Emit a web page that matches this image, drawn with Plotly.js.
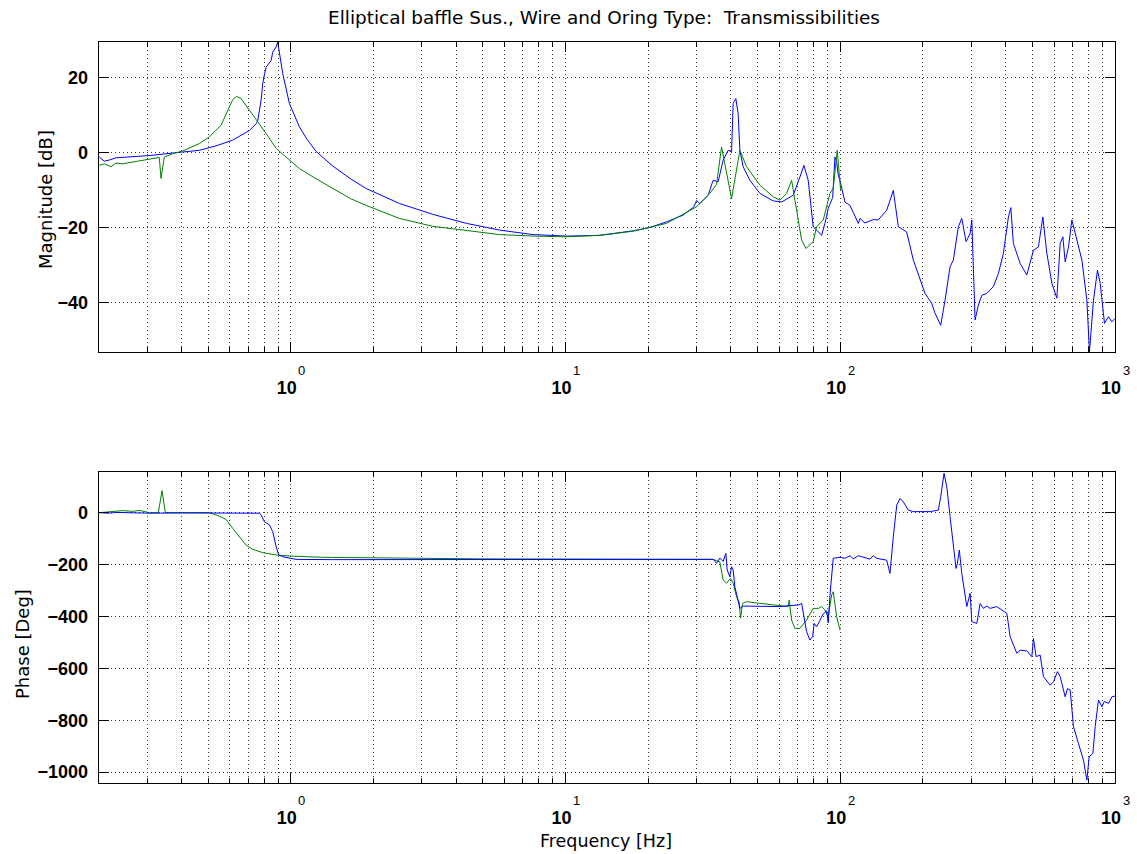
<!DOCTYPE html>
<html><head><meta charset="utf-8">
<script src="https://cdn.plot.ly/plotly-3.0.1.min.js"></script>
<style>html,body{margin:0;padding:0;background:#fff;}#chart{width:1137px;height:854px;}</style>
</head><body><div id="chart"></div>
<script>
// ---- Magnitude, blue series ----
const magFreqBlue = [0.201,0.2096,0.2185,0.2312,0.3056,0.3516,0.4043,0.465,0.535,0.6145,
0.7074,0.7482,0.7582,0.7802,0.7907,0.8021,0.8136,0.8484,0.8597,0.8848,
0.8967,0.9351,0.989,1.076,1.15,1.237,1.33,1.422,1.65,1.882,2.489,3.291,4.355,
5.758,7.613,10.08,13.32,17.62,20.27,23.32,26.8,29.31,29.99,
30.83,33.05,34.46,35.94,37.49,39.09,40.22,40.76,41.69,42.5,
43.12,44.32,46.88,51.0,57.01,61.16,67.43,71.33,73.77,76.45,
79.72,82.04,85.55,87.97,90.44,93.83,95.65,97.03,98.34,99.75,
104.0,108.5,116.3,118.0,123.0,131.9,137.5,147.6,156.0,162.7,
174.5,184.5,195.1,203.5,215.3,221.3,232.1,240.7,251.0,258.0,
269.1,276.9,287.1,296.9,301.2,309.6,318.3,327.5,341.6,360.8,
376.3,392.5,409.3,417.7,426.8,451.5,477.5,504.8,526.4,546.2,
564.9,589.1,614.3,631.6,646.1,658.7,677.2,696.7,757.6,790.0,
807.4,835.0,863.4,883.3,915.7,947.0,974.3,1000];
const magBlue = [-1.2,-2.3,-2.0,-1.4,-0.8,-0.4,0.15,0.6,1.8,3.3,
5.9,7.7,8.5,14,18.4,20.8,22.8,24.6,26.8,28.2,
29.5,21.1,13.1,6.8,3.4,0.3,-1.8,-3.6,-7.0,-9.6,-13.6,-16.5,-18.9,
-20.7,-21.9,-22.3,-22.1,-20.9,-20,-18.5,-16.7,-14.5,-12.8,
-13.6,-11.4,-7.4,-7.8,-2,0.6,0.2,13.1,14.4,10.4,
0.6,-3.8,-7.4,-10.9,-12.9,-13.2,-11.4,-6.5,-3.4,-7.4,
-19.8,-20.7,-22.1,-18.9,-14.9,-12,-1.2,-2.5,-6,-7.4,
-13.2,-14.1,-18.9,-17.6,-18.8,-17.9,-18,-15.4,-10.1,-19.8,
-21.2,-28.7,-34.1,-37.6,-40.3,-42.9,-46.1,-39.4,-30.5,-28.7,
-19.8,-17.6,-23.8,-21.6,-18,-44.7,-40.7,-38.1,-37.6,-35.8,
-32.3,-26.9,-17.2,-14.7,-24.3,-29.6,-32.7,-26.1,-25.2,-17.2,
-26.9,-34.9,-38.9,-24.3,-22.5,-29.2,-25.2,-18,-28.7,-39.4,
-53.2,-39.4,-31.4,-34.9,-45.6,-43.8,-45.2,-44.3];

// ---- Magnitude, green series ----
const magFreqGreen = [0.201,0.2096,0.2216,0.2312,0.2443,0.2658,0.3056,0.3323,0.3372,0.3467,
0.3716,0.4043,0.465,0.5056,0.5578,0.5977,0.6145,0.6358,0.6597,0.7074,
0.7691,0.8136,0.8848,0.989,1.076,1.237,1.422,1.65,1.882,2.489,3.291,
4.355,5.758,7.613,10.08,13.32,17.62,23.32,29.99,33.52,35.46,
36.98,38.34,40.22,43.12,45.61,51.0,57.01,60.3,63.78,66.53,
69.38,72.35,74.99,79.72,82.04,86.72,91.73,94.3,97.52,99.17,100.3];
const magGreen = [-3.4,-3.0,-3.8,-2.8,-3.0,-2.5,-1.8,-1.3,-6.9,-1.2,
-0.3,0.4,2.4,4.2,7.3,12.2,14.1,15.0,14.4,11.3,
7.7,5.1,1.1,-2.1,-4.3,-7.0,-9.6,-12.3,-14.1,-17.6,-19.7,
-20.9,-21.9,-22.3,-22.5,-22.1,-21.0,-18.9,-14.5,-10.9,-8.5,
1.5,-4.7,-12.3,0.6,-3.8,-8.7,-11.8,-12.7,-10.9,-7.4,
-15.4,-23.4,-25.6,-23.8,-19.8,-18,-10.9,-9.5,0.6,-5.5,-10.1];

// ---- Phase, blue series ----
const phFreqBlue = [0.201,0.2185,0.2312,0.3056,0.4043,0.535,0.6597,0.7691,0.7802,0.8021,
0.8364,0.8597,0.8848,0.9043,0.9351,0.989,1.046,1.422,2.489,5.758,
13.32,26.06,30.83,34.46,35.46,36.45,37.49,38.34,38.76,39.65,
40.22,40.76,41.34,42.15,43.12,44.32,51.0,60.3,65.56,70.31,
72.35,73.33,75.44,77.55,79.33,80.39,82.04,84.35,86.72,89.24,
90.44,91.73,93.05,94.3,99.75,104.0,108.5,111.5,116.3,121.3,
128.3,131.9,135.7,147.6,151.7,156.0,160.6,165.1,169.6,176.9,
184.5,195.1,212.3,227.5,232.1,238.7,244.2,251.0,258.0,263.9,
266.8,271.3,276.9,288.8,296.9,301.2,314.1,322.9,331.9,341.6,
351.1,371.3,403.9,415.2,439.2,451.5,477.5,498.1,504.8,516.4,
534.0,549.0,580.7,597.0,617.4,631.6,658.7,671.4,686.9,706.1,
736.3,767.8,790.0,805.4,830.7,847.0,870.8,896.0,913.4,947.0,
974.3,1000];
const phBlue = [0,-2,1,-2,-1,-2,-1,-2,-9,-35,
-47,-73,-131,-163,-170,-176,-180,-181,-181,-180,
-180,-182,-181,-180,-195,-175,-188,-157,-221,-247,
-208,-221,-285,-324,-369,-360,-360,-362,-358,-356,
-350,-388,-459,-491,-478,-427,-440,-415,-390,-378,
-425,-320,-240,-176,-172,-176,-166,-178,-166,-172,
-179,-166,-176,-183,-234,-93,30,55,42,10,
4,4,4,10,62,152,100,-15,-118,-215,
-196,-144,-234,-362,-311,-420,-427,-350,-369,-360,
-369,-362,-388,-478,-542,-530,-533,-555,-485,-555,
-549,-632,-665,-652,-613,-632,-710,-678,-684,-825,
-890,-954,-1031,-941,-928,-825,-722,-748,-728,-735,
-710,-707];

// ---- Phase, green series ----
const phFreqGreen = [0.201,0.2185,0.2443,0.2658,0.2811,0.3056,0.3296,0.3401,0.3496,0.4043,
0.5056,0.5498,0.5814,0.6145,0.6504,0.688,0.7271,0.7907,0.8848,0.989,
1.308,3.482,4.787,13.32,26.06,34.46,36.45,37.49,38.57,39.87,
40.76,41.94,42.86,43.37,44.1,45.61,49.6,60.3,64.65,65.19,
66.53,68.39,71.33,75.44,79.72,83.17,85.55,87.97,90.44,93.05,
94.3,97.03,99.75];
const phGreen = [0,3,8,5,9,0,0,85,0,0,
0,-13,-26,-60,-93,-125,-141,-154,-163,-167,
-172,-177,-178,-179,-180,-180,-190,-260,-272,-253,
-272,-324,-345,-407,-350,-343,-348,-360,-362,-337,
-414,-446,-446,-414,-369,-369,-362,-375,-401,-317,
-305,-401,-452];

// ---- Ticks and labels ----
const decadeTicks = [1, 10, 100, 1000];
const decadeBase = '10';
const minorTicks = [0.3,0.4,0.5,0.6,0.7,0.8,0.9,2,3,4,5,6,7,8,9,20,30,40,50,60,70,80,90,200,300,400,500,600,700,800,900];
const magTicks = [-40, -20, 0, 20];
const phTicks = [-1000, -800, -600, -400, -200, 0];
const titleText = 'Elliptical baffle Sus., Wire and Oring Type:  Transmissibilities';
const magLabel = 'Magnitude [dB]';
const phLabel = 'Phase [Deg]';
const freqLabel = 'Frequency [Hz]';

const W = 1137, H = 854;
const LABEL_FONT = 'DejaVu Sans, Liberation Sans, Arial, sans-serif';
const TICK_FONT = 'Liberation Sans, Arial, Helvetica, sans-serif';
const tickFont = {family: TICK_FONT, size: 18, color: '#000', weight: 'bold'};
const gridColor = '#3c3c3c';
const gridDash = '1px,3px';

function xAxis(anchor) {
  return {
    type: 'log', range: [Math.log10(0.2), 3], domain: [98.7 / W, 1115 / W], anchor: anchor,
    tickmode: 'array', tickvals: decadeTicks, ticktext: decadeTicks.map(() => decadeBase),
    ticks: 'inside', ticklen: 10, tickwidth: 1, tickcolor: '#000',
    showline: true, linecolor: '#000', linewidth: 1, mirror: 'ticks',
    showgrid: true, gridcolor: gridColor, griddash: gridDash, gridwidth: 1,
    zeroline: false, tickfont: tickFont, ticklabelstandoff: 19, ticklabelshift: -4,
    minor: {tickmode: 'array', tickvals: minorTicks, ticks: 'inside', ticklen: 5, tickwidth: 1,
            tickcolor: '#000', showgrid: true, gridcolor: gridColor, griddash: gridDash, gridwidth: 1},
    fixedrange: true
  };
}
function yAxis(anchor, dom, rng, tv) {
  return {
    domain: dom, range: rng, anchor: anchor, tickmode: 'array', tickvals: tv,
    ticks: 'inside', ticklen: 10, tickwidth: 1, tickcolor: '#000',
    showline: true, linecolor: '#000', linewidth: 1, mirror: 'ticks',
    showgrid: true, gridcolor: gridColor, griddash: gridDash, gridwidth: 1,
    zeroline: false, tickfont: tickFont, ticklabelstandoff: 6, fixedrange: true
  };
}

const traces = [
  {x: magFreqBlue, y: magBlue, xaxis: 'x', yaxis: 'y', mode: 'lines', line: {color: '#0000ff', width: 1}},
  {x: magFreqGreen, y: magGreen, xaxis: 'x', yaxis: 'y', mode: 'lines', line: {color: '#008000', width: 1}},
  {x: phFreqGreen, y: phGreen, xaxis: 'x2', yaxis: 'y2', mode: 'lines', line: {color: '#008000', width: 1}},
  {x: phFreqBlue, y: phBlue, xaxis: 'x2', yaxis: 'y2', mode: 'lines', line: {color: '#0000ff', width: 1}}
];

const annotations = [];
// exponents of the decade tick labels
[352, 782.7].forEach((axisBottomPx, i) => {
  decadeTicks.forEach(v => {
    annotations.push({
      xref: i === 0 ? 'x' : 'x2', yref: 'paper', x: Math.log10(v), y: 1 - (axisBottomPx + 18) / H,
      text: String(Math.round(Math.log10(v))), showarrow: false, xshift: 11,
      font: {family: TICK_FONT, size: 13, color: '#000'}, xanchor: 'center', yanchor: 'middle'
    });
  });
});
const labelFont = {family: LABEL_FONT, size: 18, color: '#000'};
annotations.push({xref: 'paper', yref: 'paper', x: 45 / W, y: 1 - 200 / H, text: magLabel, textangle: -90,
  showarrow: false, font: labelFont, xanchor: 'center', yanchor: 'middle'});
annotations.push({xref: 'paper', yref: 'paper', x: 22 / W, y: 1 - 644 / H, text: phLabel, textangle: -90,
  showarrow: false, font: labelFont, xanchor: 'center', yanchor: 'middle'});
annotations.push({xref: 'paper', yref: 'paper', x: 606 / W, y: 1 - 853 / H, text: freqLabel,
  showarrow: false, font: {family: LABEL_FONT, size: 17.5, color: '#000'}, xanchor: 'center', yanchor: 'bottom'});

const layout = {
  width: W, height: H, margin: {l: 0, r: 0, t: 0, b: 0},
  paper_bgcolor: '#fff', plot_bgcolor: '#fff', showlegend: false,
  title: {text: titleText, x: 604 / W, xanchor: 'center', y: 1 - 18 / H, yanchor: 'middle', yref: 'paper',
          font: {family: LABEL_FONT, size: 18.4, color: '#000'}},
  xaxis: xAxis('y'),
  yaxis: yAxis('x', [1 - 352 / H, 1 - 41.7 / H], [-53.25, 29.6], magTicks),
  xaxis2: xAxis('y2'),
  yaxis2: yAxis('x2', [1 - 782.7 / H, 1 - 471.7 / H], [-1041, 158], phTicks),
  annotations: annotations
};

Plotly.newPlot('chart', traces, layout, {staticPlot: true, displayModeBar: false});
</script>
</body></html>
